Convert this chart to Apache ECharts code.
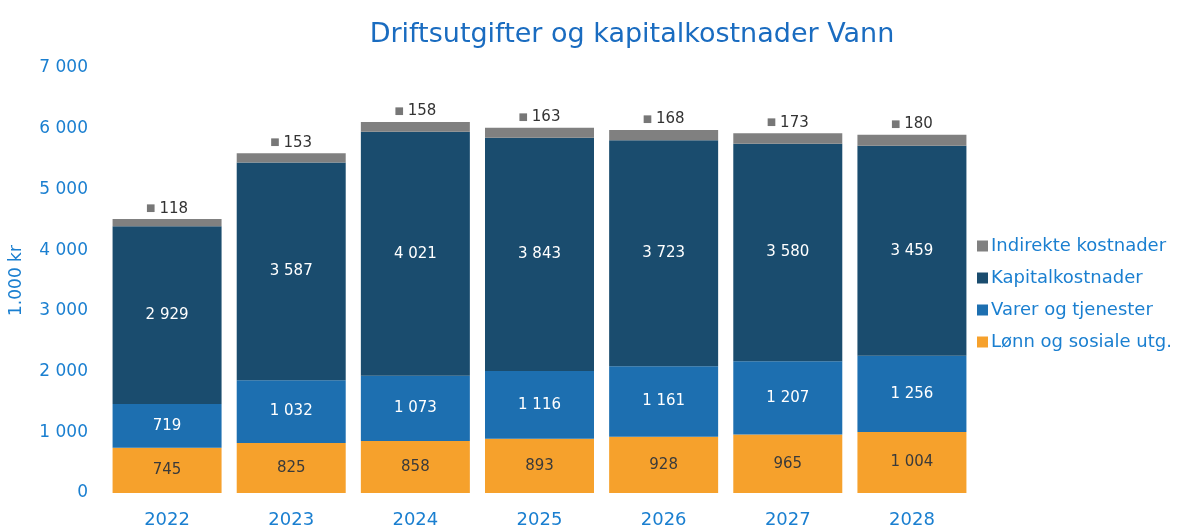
<!DOCTYPE html>
<html>
<head>
<meta charset="utf-8">
<script src="https://cdn.jsdelivr.net/npm/echarts@6/dist/echarts.min.js"></script>
<style>
  html, body { margin: 0; padding: 0; background: #fff; }
  #chart { width: 1178px; height: 531px; }
</style>
</head>
<body>
<div id="chart"></div>
<script>
const years = ['2022', '2023', '2024', '2025', '2026', '2027', '2028']
const lonn = [745, 825, 858, 893, 928, 965, 1004]
const varer = [719, 1032, 1073, 1116, 1161, 1207, 1256]
const kapital = [2929, 3587, 4021, 3843, 3723, 3580, 3459]
const indirekte = [118, 153, 158, 163, 168, 173, 180]
const yTicks = [0, 1000, 2000, 3000, 4000, 5000, 6000, 7000]

const blue = '#1a7fd0'
const font = "'DejaVu Sans', Verdana, sans-serif"

// tusenskille med mellomrom, som i originalen
function fmt (v) {
  return String(v).replace(/\B(?=(\d{3})+(?!\d))/g, ' ')
}

const chart = echarts.init(document.getElementById('chart'))

const option = {
  animation: false,
  textStyle: { fontFamily: font },
  title: {
    text: 'Driftsutgifter og kapitalkostnader Vann',
    left: 627,
    textAlign: 'center',
    top: 16,
    textStyle: { color: '#1a6cc0', fontSize: 27, fontWeight: 'normal', fontFamily: font }
  },
  legend: {
    orient: 'vertical',
    left: 972,
    top: 232,
    itemGap: 14,
    itemWidth: 11,
    itemHeight: 11,
    icon: 'rect',
    data: ['Indirekte kostnader', 'Kapitalkostnader', 'Varer og tjenester', 'Lønn og sosiale utg.'],
    textStyle: { color: blue, fontSize: 18, fontFamily: font, padding: [0, 0, 0, -2] }
  },
  grid: { left: 105, right: 204, top: 68, bottom: 38 },
  xAxis: {
    type: 'category',
    data: years,
    axisLine: { show: false },
    axisTick: { show: false },
    axisLabel: { color: blue, fontSize: 18, margin: 18, fontFamily: font }
  },
  yAxis: {
    type: 'value',
    min: yTicks[0],
    max: yTicks[yTicks.length - 1],
    interval: 1000,
    name: '1.000 kr',
    nameLocation: 'middle',
    nameGap: 80,
    nameRotate: 90,
    nameTextStyle: { color: blue, fontSize: 17, fontFamily: font },
    axisLine: { show: false },
    axisTick: { show: false },
    splitLine: { show: false },
    axisLabel: { color: blue, fontSize: 17, margin: 17, fontFamily: font, formatter: v => fmt(v) }
  },
  series: [
    {
      name: 'Lønn og sosiale utg.',
      type: 'bar',
      stack: 'tot',
      barWidth: 109,
      itemStyle: { color: '#f6a12c' },
      label: { show: true, position: 'inside', color: '#3a3a3a', fontSize: 15, fontFamily: font, formatter: p => fmt(p.value) },
      data: lonn
    },
    {
      name: 'Varer og tjenester',
      type: 'bar',
      stack: 'tot',
      itemStyle: { color: '#1d6fb0' },
      label: { show: true, position: 'inside', color: '#fff', fontSize: 15, fontFamily: font, formatter: p => fmt(p.value) },
      data: varer
    },
    {
      name: 'Kapitalkostnader',
      type: 'bar',
      stack: 'tot',
      itemStyle: { color: '#1a4c6e' },
      label: { show: true, position: 'inside', color: '#fff', fontSize: 15, fontFamily: font, formatter: p => fmt(p.value) },
      data: kapital
    },
    {
      name: 'Indirekte kostnader',
      type: 'bar',
      stack: 'tot',
      itemStyle: { color: '#808080' },
      label: {
        show: true,
        position: 'top',
        distance: 3,
        formatter: p => '{sq|■} {v|' + fmt(p.value) + '}',
        rich: {
          sq: { color: '#777', fontSize: 10, fontFamily: font },
          v: { color: '#333', fontSize: 15, fontFamily: font }
        }
      },
      data: indirekte
    }
  ]
}

chart.setOption(option)
</script>
</body>
</html>
